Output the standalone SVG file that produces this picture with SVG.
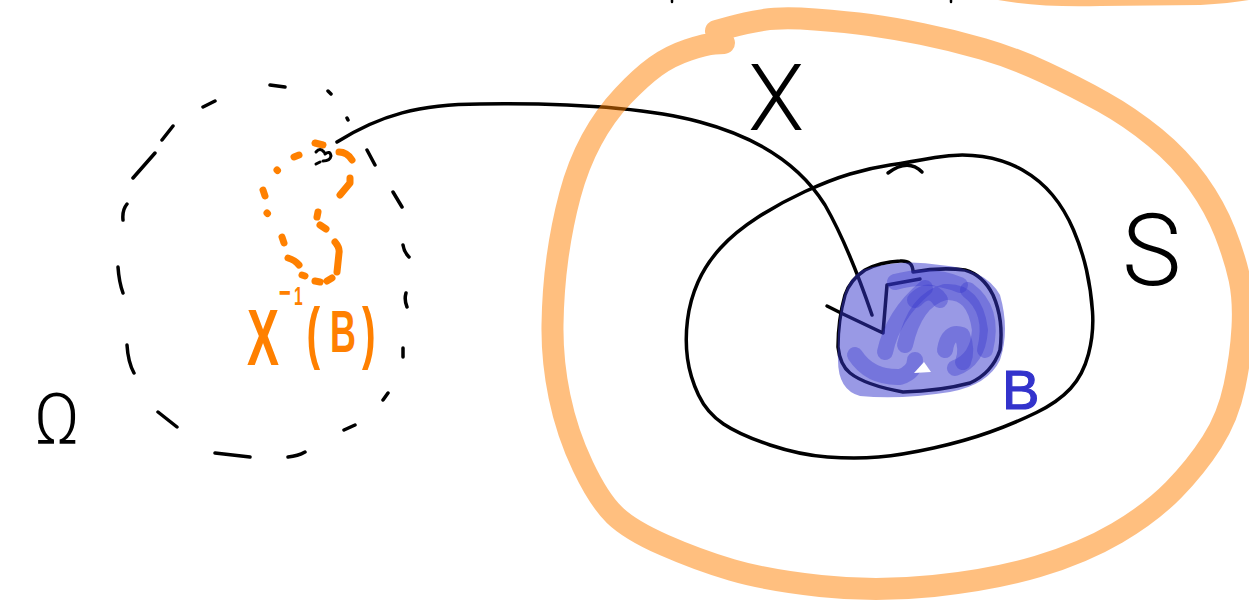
<svg xmlns="http://www.w3.org/2000/svg" width="1249" height="606" viewBox="0 0 1249 606">
<style>
  .ink { fill: none; stroke: #000; stroke-width: 3.5; stroke-linecap: round; stroke-linejoin: round; }
  .dash { fill: none; stroke: #000; stroke-width: 3.5; stroke-linecap: round; }
  .odot { fill: none; stroke: #ff8000; stroke-width: 7; stroke-linecap: round; stroke-linejoin: round; }
  .halo { fill: none; stroke: #ff8000; stroke-opacity: 0.5; stroke-width: 22; stroke-linecap: round; stroke-linejoin: round; }
  .scrib { fill: none; stroke: #3333cc; stroke-opacity: 0.35; stroke-width: 16; stroke-linecap: round; stroke-linejoin: round; }
  .lbl { font-family: Roboto, "Liberation Sans", sans-serif; font-weight: 300; }
</style>
<rect width="1249" height="606" fill="#fff"/>

<g id="omega-space">
  <path class="dash" d="M270,85 L285,87 M328,91 L331,94 M347,118 L348,120 M203,107 L215,101 M162,140 L173,126 M133,178 L155,153 M123,220 Q122,210 127,204 M118,267 Q119,282 123,293 M127,345 Q128,362 134,373 M158,412 L177,427 M215,453 L250,457 M288,457 Q298,456 305,452 M344,430 L355,425 M383,400 L388,393 M403,348 L403,357 M406,293 Q404,300 407,307 M403,245 Q404,252 409,257 M393,192 L402,207 M367,150 L375,165"/>
  <text class="lbl" x="57" y="443" font-size="70" text-anchor="middle" fill="#000">Ω</text>
</g>

<g id="preimage">
  <path class="odot" d="M315,143 L323,145 M294,157 L299,155 M277,170 L277.5,170.5 M263,190 L265,196 M267,213 L267.5,213.5 M282,237 L284,243 M288,258 Q295,260 299,265 M302,275 L305,276 M315,281 L320,282 M327,281 L332,278 M335,242 Q340,248 339,253 L337,272 M320,225 L326,229 M317,217 L318,212 M340,195 L350,183 L350,178 M339,152 Q347,152 352,160"/>
  <path class="ink" style="stroke-width:3" d="M316,152 Q320,147 324,152 M325,154 Q330,150 331,156 Q330,161 323,161 M316,164 L320,162"/>
  <text transform="scale(0.6,1)" font-family="'Liberation Sans', sans-serif" font-weight="700" fill="#ff8000"><tspan x="411.7" y="365" font-size="80">X</tspan><tspan x="465" y="304" font-size="34">−</tspan><tspan x="490" y="305" font-size="26">1</tspan><tspan x="511" y="356" font-size="68">(</tspan><tspan x="550" y="352" font-size="60">B</tspan><tspan x="603.3" y="356" font-size="68">)</tspan></text>
</g>

<g id="connectors">
  <path id="map-X" class="ink" d="M337,142 C380,115 420,104 480,104 C560,103 640,106 700,122 C760,138 800,165 825,205 C845,240 860,280 872,315"/>
  <path class="ink" d="M827,306 L843,314 L883,333 L887,285 L920,279"/>
  <text class="lbl" x="748" y="130" font-size="92" fill="#000">X</text>
</g>

<g id="set-S">
  <path class="ink" d="M935,157.5 Q960,153 982.5,156.5 Q1005,160 1022.5,170 Q1040,180 1052.5,195 Q1065,210 1073.5,230 Q1082,250 1086.5,270 Q1091,290 1092.5,311.5 Q1094,333 1088.5,354 Q1083,375 1070.5,388.5 Q1058,402 1036.5,412.5 Q1015,423 990,432 Q965,441 933.5,448 Q902,455 878.5,457 Q855,459 827.5,457 Q800,455 770,445 Q740,435 723.5,424 Q707,413 698.5,395 Q690,377 687.5,358.5 Q685,340 687.5,320 Q690,300 698,282 Q706,264 720.5,248 Q735,232 757.5,217.5 Q780,203 805,191.5 Q830,180 850,174 Q870,168 890,165 Q910,162 935,157.5 Z"/>
  <path class="ink" d="M888,173 Q908,158 922,172"/>
  <text class="lbl" x="1122" y="285" font-size="100" fill="#000">S</text>
</g>

<g id="set-B">
  <path class="ink" d="M913,272 Q913,260 900,261 Q880,262 865,270 Q850,280 845,295 Q838,320 838,347 Q840,365 850,373 Q865,385 903,392 Q940,391 970,383 Q992,373 1000,350 Q1004,320 993,295 Q983,275 965,270 Q940,267 913,272"/>
  <path d="M862,270 Q900,258 940,265 Q985,268 1000,295 Q1010,330 1000,360 Q988,385 950,392 Q900,400 860,396 Q838,390 838,360 Q836,320 845,292 Q850,278 862,270 Z" fill="#3333cc" fill-opacity="0.5"/>
  <path class="scrib" d="M895,282 Q930,272 960,285"/>
  <path class="scrib" d="M905,345 Q915,300 945,292 Q975,290 980,330 Q978,360 955,368"/>
  <path class="scrib" d="M885,352 Q893,315 925,288"/>
  <path class="scrib" d="M855,355 Q870,378 900,377 Q915,372 915,360"/>
  <path class="scrib" d="M945,350 Q948,330 962,335 Q968,350 963,362"/>
  <path class="scrib" d="M968,290 Q995,310 985,350"/>
  <path class="scrib" d="M915,300 Q930,285 940,300"/>
  <path d="M914,373 L924,362 L931,372 Z" fill="#fff"/>
  <text x="1002" y="409" font-family="'Liberation Sans', sans-serif" font-size="56" fill="#3333cc" stroke="#3333cc" stroke-width="1.2">B</text>
</g>

<g id="space-outline">
  <path class="halo" d="M716,31 L730.5,27 Q745,23 763.5,20 Q782,17 815,19.5 Q848,22 870,25 Q892,28 922,34 Q952,40 983,49 Q1014,58 1045,72.5 Q1076,87 1103,102 Q1130,117 1155,137.5 Q1180,158 1197.5,182.5 Q1215,207 1225,232.5 Q1235,258 1239.5,279 Q1244,300 1242.5,327.5 Q1241,355 1234.5,386 Q1228,417 1212,442 Q1196,467 1173.5,490 Q1151,513 1117,533 Q1083,553 1037.5,566.5 Q992,580 933.5,586 Q875,592 820.5,586 Q766,580 732,570 Q698,560 664,545 Q630,530 614.5,515 Q599,500 583,466.5 Q567,433 559.5,396.5 Q552,360 552.5,325 Q553,290 557.5,257.5 Q562,225 570,195 Q578,165 591.5,140 Q605,115 623,96 Q641,77 655.5,66.5 Q670,56 688,50 Q706,44 715,43.5 L724,43"/>
  <path class="halo" d="M985,-14 Q1030,-3 1100,-5 L1200,-6 Q1240,-8 1262,-14"/>
  <path class="dash" style="stroke-width:2.5" d="M672,0 L672,2 M951,0 L951,2"/>
</g>
</svg>
